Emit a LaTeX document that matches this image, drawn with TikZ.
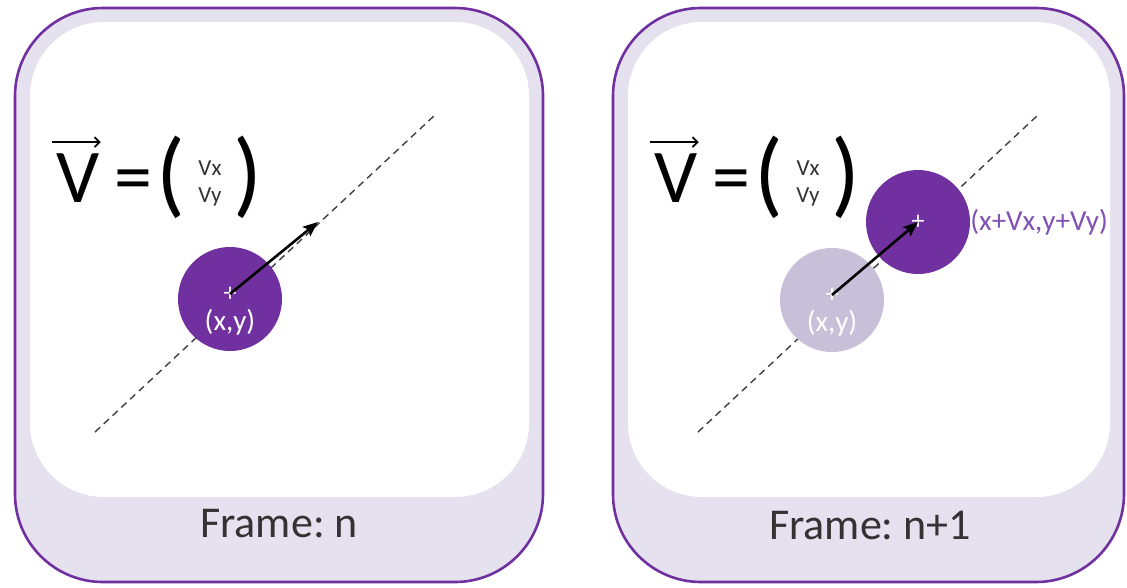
\documentclass[tikz,border=0pt]{standalone}
\usepackage{fontspec}
\setmainfont{Carlito}
\frenchspacing
\usetikzlibrary{arrows.meta,positioning,calc}
\definecolor{vpurple}{HTML}{7030A0}
\definecolor{vband}{HTML}{E6E1EE}
\definecolor{vfade}{HTML}{C8C0D9}
\definecolor{vlabel}{HTML}{8050B4}

\begin{document}
\begin{tikzpicture}[x=1pt, y=-1pt,
    frame/.style={draw=vpurple, line width=2.6pt, fill=vband, rounded corners=88pt},
    pane/.style={fill=white, rounded corners=74pt},
    ball/.style={circle, fill=vpurple, minimum size=104pt, inner sep=0pt},
    ghost/.style={ball, fill=vfade},
    guide/.style={dash pattern=on 7pt off 5pt, line width=1.4pt, black!75},
    velo/.style={-{Stealth[length=15pt, width=12pt, inset=3pt]}, line width=2.6pt},
    bar/.style={-{Straight Barb[length=5pt, width=10pt]}, line width=1.8pt},
    big/.style={font=\fontsize{76}{80}\selectfont, inner sep=0pt, anchor=base},
    paren/.style={font=\fontsize{95}{100}\selectfont, inner sep=0pt, anchor=base},
    small/.style={font=\fontsize{23}{25}\selectfont, inner sep=0pt, text=black!80},
    plus/.style={font=\fontsize{26}{28}\selectfont, inner sep=0pt, text=white},
    coord/.style={font=\fontsize{29}{31}\selectfont, inner sep=0pt, text=white},
    caption/.style={font=\fontsize{44}{48}\selectfont, inner sep=0pt, text=black!80}]
  \fill[white] (0,0) rectangle (1127,587);
  \useasboundingbox (0,0) rectangle (1127,587);

  % the two frames
  \draw[frame] (15,8) rectangle (543,582);
  \fill[pane] (30,22) rectangle (529,497);
  \draw[frame] (613,8) rectangle (1124,582);
  \fill[pane] (628,22) rectangle (1110,497);

  % velocity vector, same in both frames
  \foreach \i/\dx in {1/0, 2/598} {
    \node[big] (v\i) at (78+\dx,202) {V};
    \node[big] (eq\i) at (133+\dx,202) {=};
    \node[paren] (lp\i) at (171+\dx,205) {(};
    \node[paren] (rp\i) at (248+\dx,205) {)};
    \node[small] (vx\i) at (210+\dx,168) {Vx};
    \node[small] (vy\i) at (210+\dx,197) {Vy};
    \draw[bar] ([xshift=-4pt, yshift=11pt]v\i.north west) -- ([xshift=1pt, yshift=11pt]v\i.north east);
  }

  % frame n
  \coordinate (g1a) at (95,432);
  \coordinate (g1b) at (435,115);
  \draw[guide] (g1a) -- (g1b);
  \node[ball] (b1) at (230,299) {};
  \node[plus] (p1) at (230,294) {+};
  \node[coord] (xy1) at (230,322) {(x,y)};
  \coordinate (t1) at (318,222);
  \draw[velo] (p1.center) -- (t1);
  \node[caption] (cap1) at (279,524) {Frame: n};

  % frame n+1
  \coordinate (g2a) at (698,432);
  \coordinate (g2b) at (1038,115);
  \draw[guide] (g2a) -- (g2b);
  \node[ghost] (f2) at (832,300) {};
  \node[plus] (q2) at (832,295) {+};
  \node[coord] (xy2) at (832,323) {(x,y)};
  \node[ball] (b2) at (918,222) {};
  \node[plus] (p2) at (b2.center) {+};
  \node[coord, text=vlabel, anchor=west] (xy3) at (b2.east) {(x+Vx,y+Vy)};
  \draw[velo] (q2.center) -- (p2.center);
  \node[caption] (cap2) at (870,526) {Frame: n+1};
\end{tikzpicture}
\end{document}
